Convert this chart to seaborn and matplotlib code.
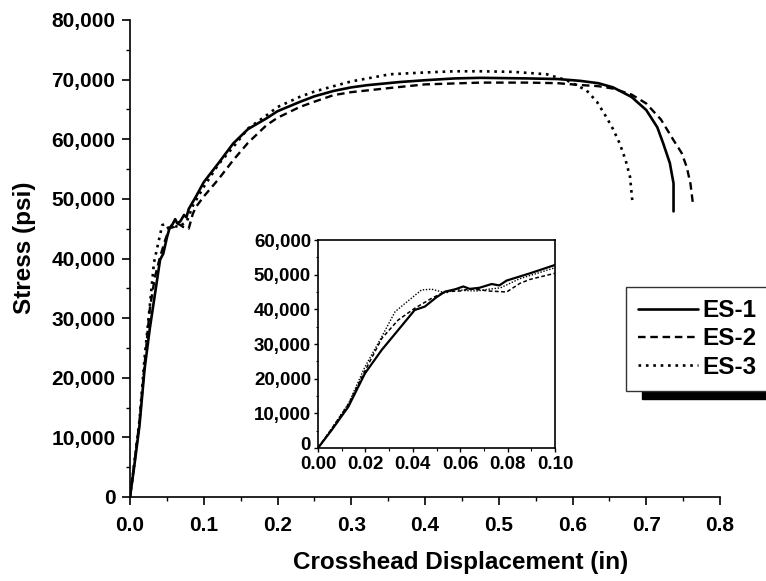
import numpy as np
import pandas as pd
import matplotlib
matplotlib.use("Agg")
import matplotlib.pyplot as plt
from matplotlib.ticker import FuncFormatter, MultipleLocator
from matplotlib.transforms import ScaledTranslation
import seaborn as sns

# ---- data ----
es1_x = [0, 0.0058, 0.0128, 0.0198, 0.0269, 0.0338, 0.0408, 0.0451, 0.0500, 0.0536, 0.058, 0.0613,
         0.064, 0.068, 0.0733, 0.0765, 0.0796, 0.0895, 0.100, 0.120, 0.140, 0.160, 0.185, 0.200,
         0.230, 0.250, 0.276, 0.300, 0.321, 0.366, 0.400, 0.440, 0.475, 0.540, 0.580, 0.610,
         0.635, 0.655, 0.680, 0.700, 0.715, 0.723, 0.732, 0.737, 0.737]
es1_y = [0, 5200, 11900, 21500, 28300, 34000, 39800, 40800, 43500, 45100, 45800, 46600,
         45900, 46200, 47300, 46900, 48300, 50400, 52800, 56000, 59300, 61700, 63500, 64700,
         66250, 67200, 68100, 68700, 69060, 69600, 69900, 70200, 70300, 70200, 70100, 69800,
         69400, 68700, 67100, 64900, 62000, 59300, 56000, 52600, 47900]

es2_x = [0, 0.006, 0.013, 0.020, 0.0269, 0.0338, 0.0408, 0.048, 0.0536, 0.060, 0.064, 0.0684,
         0.072, 0.0796, 0.0852, 0.0895, 0.100, 0.120, 0.140, 0.160, 0.185, 0.200, 0.230, 0.250,
         0.276, 0.300, 0.3525, 0.400, 0.475, 0.540, 0.580, 0.610, 0.635, 0.655, 0.680, 0.700,
         0.720, 0.737, 0.748, 0.755, 0.760, 0.763]
es2_y = [0, 5800, 12800, 22500, 31600, 36900, 40300, 43200, 45100, 45300, 45900, 45600,
         45300, 45000, 47500, 48650, 50400, 53300, 56500, 59400, 62350, 63600, 65400, 66300,
         67400, 67900, 68600, 69200, 69500, 69500, 69400, 69100, 68900, 68500, 67500, 66000,
         63300, 59840, 57700, 55300, 52500, 49500]

es3_x = [0, 0.006, 0.013, 0.0198, 0.0269, 0.0325, 0.0367, 0.0437, 0.048, 0.054, 0.058, 0.062,
         0.067, 0.072, 0.077, 0.085, 0.100, 0.120, 0.140, 0.160, 0.185, 0.200, 0.230, 0.250,
         0.276, 0.300, 0.3525, 0.400, 0.440, 0.475, 0.520, 0.565, 0.592, 0.619, 0.633, 0.646,
         0.655, 0.664, 0.672, 0.678, 0.681]
es3_y = [0, 5800, 13000, 23400, 32100, 39300, 41700, 45600, 45800, 44700, 45800, 45400,
         45300, 45800, 46200, 48800, 52000, 55800, 58700, 61800, 64000, 65400, 67100, 68000,
         68900, 69700, 70900, 71200, 71400, 71400, 71300, 70900, 69900, 68200, 66300, 63700,
         61700, 59300, 56500, 53700, 49800]

labels = ["ES-1", "ES-2", "ES-3"]
xs = [es1_x, es2_x, es3_x]
ys = [es1_y, es2_y, es3_y]

main_xticks = [0.0, 0.1, 0.2, 0.3, 0.4, 0.5, 0.6, 0.7, 0.8]
main_yticks = [0, 10000, 20000, 30000, 40000, 50000, 60000, 70000, 80000]
inset_xticks = [0.00, 0.02, 0.04, 0.06, 0.08, 0.10]
inset_yticks = [0, 10000, 20000, 30000, 40000, 50000, 60000]

# ---- styling ----
sns.set_style("ticks")
plt.rcParams['font.family'] = ['Liberation Sans', 'DejaVu Sans']
plt.rcParams['font.weight'] = 'bold'
plt.rcParams['axes.labelweight'] = 'bold'
plt.rcParams['text.color'] = 'black'
plt.rcParams['axes.labelcolor'] = 'black'
plt.rcParams['xtick.color'] = 'black'
plt.rcParams['ytick.color'] = 'black'

W, H = 766, 581
fig = plt.figure(figsize=(W / 100, H / 100), dpi=100)

main_styles = ['-', (0, (3.2, 2.0)), (0, (1.0, 1.8))]
inset_styles = ['-', (0, (2.5, 1.6)), (0, (1.0, 1.2))]
main_lw = [1.9, 1.7, 1.9]
inset_lw = [1.6, 1.1, 1.0]

ax = fig.add_axes([130 / W, 1 - 497 / H, (720 - 130) / W, (497 - 20) / H])
for lab, x, y, ls, lw in zip(labels, xs, ys, main_styles, main_lw):
    df = pd.DataFrame({"x": x, "y": y})
    sns.lineplot(data=df, x="x", y="y", ax=ax, color="black", sort=False,
                 estimator=None, linestyle=ls, linewidth=lw, label=lab, legend=False)

ax.set_xlim(0, 0.8)
ax.set_ylim(0, 80000)
ax.set_xticks(main_xticks)
ax.set_yticks(main_yticks)
ax.xaxis.set_minor_locator(MultipleLocator(0.05))
ax.yaxis.set_minor_locator(MultipleLocator(5000))
ax.xaxis.set_major_formatter(FuncFormatter(lambda v, p: f"{v:.1f}"))
ax.yaxis.set_major_formatter(FuncFormatter(lambda v, p: f"{v:,.0f}"))
for s in ['top', 'right']:
    ax.spines[s].set_visible(False)
for s in ['left', 'bottom']:
    ax.spines[s].set_linewidth(1.2)
    ax.spines[s].set_color('black')
ax.tick_params(which='major', direction='out', length=5.5, width=1.2, labelsize=15, colors='black')
ax.tick_params(axis='x', which='major', pad=8)
ax.tick_params(axis='y', which='major', pad=5)
ax.tick_params(which='minor', direction='out', length=3, width=1.0, colors='black')
ax.set_xlabel("Crosshead Displacement (in)", fontsize=17.5, fontweight='bold', color='black')
ax.set_ylabel("Stress (psi)", fontsize=17.5, fontweight='bold', color='black')
ax.xaxis.set_label_coords(0.561, -0.113)
ax.yaxis.set_label_coords(-0.160, 0.522)
for t in ax.get_xticklabels() + ax.get_yticklabels():
    t.set_fontweight('bold')

# ---- inset ----
axi = fig.add_axes([318 / W, 1 - 448 / H, (555 - 318) / W, (448 - 240) / H])
for lab, x, y, ls, lw in zip(labels, xs, ys, inset_styles, inset_lw):
    df = pd.DataFrame({"x": x, "y": y})
    sns.lineplot(data=df, x="x", y="y", ax=axi, color="black", sort=False,
                 estimator=None, linestyle=ls, linewidth=lw, legend=False)
axi.set_xlim(0, 0.10)
axi.set_ylim(0, 60000)
axi.set_xticks(inset_xticks)
axi.set_yticks(inset_yticks)
axi.xaxis.set_minor_locator(MultipleLocator(0.01))
axi.yaxis.set_minor_locator(MultipleLocator(5000))
axi.xaxis.set_major_formatter(FuncFormatter(lambda v, p: f"{v:.2f}"))
axi.yaxis.set_major_formatter(FuncFormatter(lambda v, p: f"{v:,.0f}"))
for s in axi.spines.values():
    s.set_linewidth(1.2)
    s.set_color('black')
axi.tick_params(which='major', direction='out', length=3, width=1.0, labelsize=13.5, colors='black')
axi.tick_params(axis='x', which='major', pad=2.5)
axi.tick_params(axis='y', which='major', pad=2)
axi.tick_params(which='minor', direction='out', length=1.8, width=0.8, colors='black')
axi.set_xlabel("")
axi.set_ylabel("")
fig.canvas.draw()
for t in axi.get_xticklabels() + axi.get_yticklabels():
    t.set_fontweight('bold')
# nudge the inset's "0" y label up a little so it does not collide with "0.00"
ylabs = axi.get_yticklabels()
ylabs[0].set_transform(ylabs[0].get_transform() + ScaledTranslation(0, 3 / 72, fig.dpi_scale_trans))

# ---- legend ----
handles, labs = ax.get_legend_handles_labels()
leg = ax.legend(handles, labs, loc='upper left', bbox_to_anchor=(626 / W, 1 - 287 / H),
                bbox_transform=fig.transFigure, frameon=True, fancybox=False,
                shadow={'ox': 11.5, 'oy': -5.8, 'facecolor': 'black', 'edgecolor': 'black', 'alpha': 1},
                prop={'family': ['Liberation Sans'], 'weight': 'bold', 'size': 17.5},
                handlelength=2.45, handletextpad=0.2, labelspacing=0.22, borderpad=0.5,
                borderaxespad=0)
leg.get_frame().set_edgecolor('#333333')
leg.get_frame().set_linewidth(1.0)
leg.set_zorder(10)

fig.savefig("out.png", dpi=100)
